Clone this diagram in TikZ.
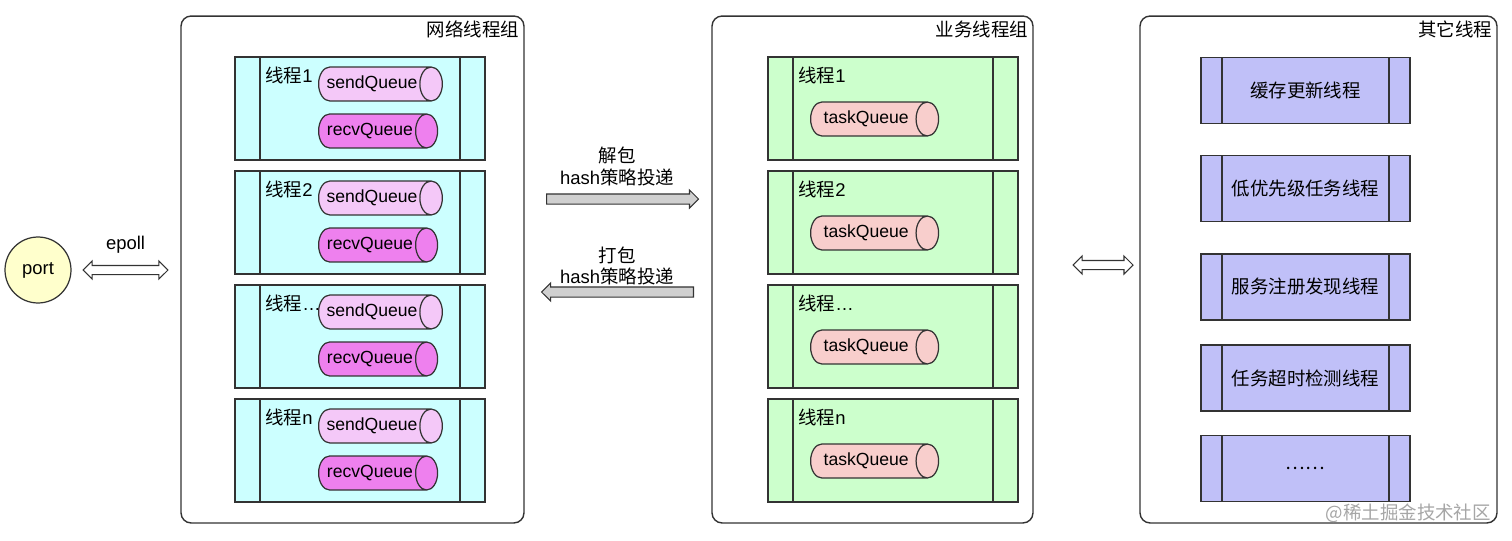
\documentclass[tikz,border=0pt]{standalone}
\usepackage{fontspec}
\setmainfont{Liberation Sans}
\newfontfamily\cjk{Noto Sans CJK SC}
\usetikzlibrary{shapes.geometric,shapes.arrows,positioning}
\definecolor{netbg}{HTML}{CCFFFF}
\definecolor{jobbg}{HTML}{CCFFCC}
\definecolor{othbg}{HTML}{C0C0F8}
\definecolor{sendq}{HTML}{F4C8F8}
\definecolor{recvq}{HTML}{EE80EE}
\definecolor{taskq}{HTML}{F8CECC}
\definecolor{portbg}{HTML}{FFFFCC}
\definecolor{arrbg}{HTML}{D0D0D0}
\definecolor{edge}{HTML}{333333}
\tikzset{
  txt/.style={font=\fontsize{10.5}{12}\selectfont, text=black},
  group/.style={draw=edge, line width=0.8pt, rounded corners=0.2cm, fill=white},
  title/.style={txt, anchor=north east, inner sep=3pt},
  procbox/.style 2 args={draw=edge, line width=0.7pt, fill=#1, inner sep=0pt,
    path picture={
      \draw[edge, line width=0.7pt]
        ([xshift=#2]path picture bounding box.north west) -- ([xshift=#2]path picture bounding box.south west)
        ([xshift=-#2]path picture bounding box.north east) -- ([xshift=-#2]path picture bounding box.south east);}},
  queue/.style={font=\fontsize{10}{12}\selectfont, cylinder, shape border rotate=0, draw=edge, line width=0.7pt,
    cylinder uses custom fill, cylinder body fill=#1, cylinder end fill=#1,
    minimum width=0.68cm, minimum height=2.38cm, aspect=1.15, inner sep=1pt, anchor=west},
  hollow/.style={double arrow, draw=edge, fill=white, line width=0.6pt, inner xsep=0pt, inner ysep=0.08cm,
    double arrow head extend=0.09cm},
  pushdir/.style={single arrow, draw=edge, fill=arrbg, line width=0.6pt, inner xsep=0pt, inner ysep=0.09cm,
    single arrow head extend=0.08cm, minimum height=3.04cm}
}
\begin{document}
\begin{tikzpicture}[x=0.02cm, y=-0.02cm]
  \useasboundingbox (0,0) rectangle (1512,541);

  % groups
  \node[group, minimum width=6.86cm, minimum height=10.14cm] (netgrp) at (352.5,269.5) {};
  \node[group, minimum width=6.42cm, minimum height=10.14cm] (jobgrp) at (872.5,269.5) {};
  \node[group, minimum width=7.14cm, minimum height=10.14cm] (othgrp) at (1318.5,269.5) {};
  \node[title] at (netgrp.north east) {\cjk 网络线程组};
  \node[title] at (jobgrp.north east) {\cjk 业务线程组};
  \node[title] at (othgrp.north east) {\cjk 其它线程};

  % network threads
  \foreach \i/\lab [count=\k] in {1/1, 2/2, 3/\ldots, 4/n} {
    \pgfmathsetmacro\yc{108.5+114*(\k-1)}
    \node[procbox={netbg}{0.5cm}, minimum width=5cm, minimum height=2.06cm] (net\i) at (360,\yc) {};
    \node[txt, anchor=west, inner sep=0pt] (netlab\i) at (265,\yc-33.5) {{\cjk 线程}\lab};
    \node[queue=sendq] (send\i) at (318,\yc-24.5) {sendQueue};
    \node[queue=recvq] (recv\i) at (318,\yc+22.5) {recvQueue};
  }

  % business threads
  \foreach \i/\lab [count=\k] in {1/1, 2/2, 3/\ldots, 4/n} {
    \pgfmathsetmacro\yc{108.5+114*(\k-1)}
    \node[procbox={jobbg}{0.5cm}, minimum width=5cm, minimum height=2.06cm] (job\i) at (893,\yc) {};
    \node[txt, anchor=west, inner sep=0pt] (joblab\i) at (798,\yc-33.5) {{\cjk 线程}\lab};
    \node[queue=taskq, minimum height=2.56cm] (task\i) at (810,\yc+10.5) {taskQueue};
  }

  % other threads
  \foreach \name/\yc [count=\k] in {缓存更新线程/90.5, 低优先级任务线程/188.5, 服务注册发现线程/287,
      任务超时检测线程/378, ……/468.5} {
    \node[procbox={othbg}{0.42cm}, txt, minimum width=4.18cm, minimum height=1.32cm] (oth\k) at (1305.5,\yc) {\cjk \name};
  }

  % port
  \node[txt, circle, draw=edge, line width=0.7pt, fill=portbg, minimum size=1.32cm, inner sep=0pt] (port) at (38,270) {port};
  \node[hollow, minimum height=1.7cm] (epoll) at (125.5,270) {};
  \node[txt] at (125.5,245) {epoll};

  % dispatch arrows
  \node[pushdir] (unpack) at (620,199) {};
  \node[txt, align=center] at (617,166.5) {{\cjk 解包}\\hash{\cjk 策略投递}};
  \node[pushdir, shape border rotate=180] (pack) at (620,292) {};
  \node[txt, align=center] at (617,266) {{\cjk 打包}\\hash{\cjk 策略投递}};

  \node[hollow, minimum height=1.2cm] (link) at (1103,265) {};

  \node[font=\cjk\fontsize{10.5}{12}\selectfont, text=black!35, anchor=east] at (1497,513) {@稀土掘金技术社区};
\end{tikzpicture}
\end{document}
